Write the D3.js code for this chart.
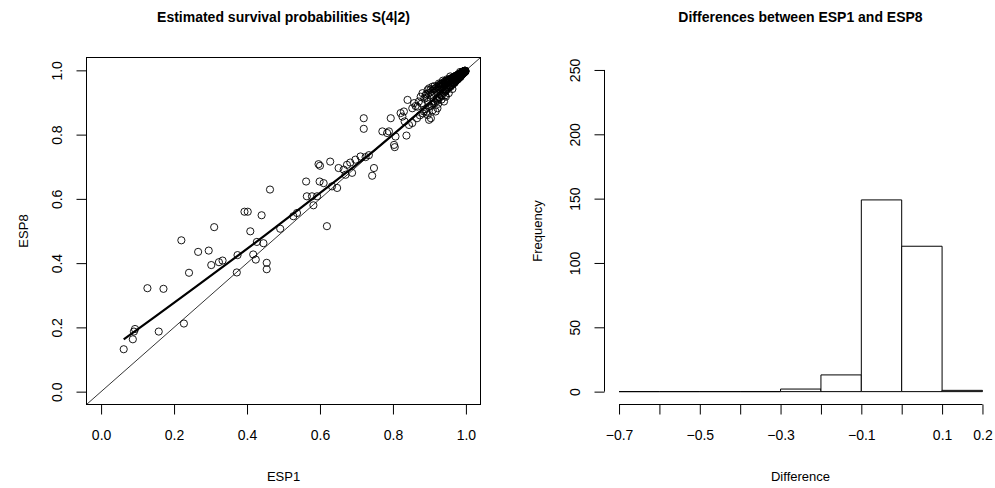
<!DOCTYPE html>
<html>
<head>
<meta charset="utf-8">
<script src="https://cdn.jsdelivr.net/npm/d3@7"></script>
<style>
body { margin: 0; background: #fff; }
text { font-family: "Liberation Sans", Arial, Helvetica, sans-serif; fill: #000; }
</style>
</head>
<body>
<div id="chart"></div>
<script>
// estimated survival probabilities, one entry per subject
var esp1 = [
    0.062, 0.087, 0.090, 0.093, 0.158, 0.227, 0.127, 0.171, 0.241, 0.220,
    0.266, 0.295, 0.310, 0.302, 0.323, 0.333, 0.372, 0.374, 0.409, 0.417,
    0.424, 0.427, 0.445, 0.454, 0.454, 0.491, 0.463, 0.393, 0.402, 0.440,
    0.619, 0.527, 0.537, 0.564, 0.578, 0.592, 0.582, 0.562, 0.599, 0.596,
    0.600, 0.628, 0.633, 0.647, 0.610, 0.651, 0.665, 0.674, 0.683, 0.697,
    0.711, 0.725, 0.734, 0.688, 0.670, 0.748, 0.743, 0.720, 0.720, 0.771,
    0.784, 0.789, 0.794, 0.807, 0.803, 0.805, 0.837, 0.821, 0.830, 0.826,
    0.832, 0.844, 0.853, 0.840, 0.876, 0.881, 0.895, 0.899, 0.908, 0.885,
    0.895, 0.899, 0.904, 0.917, 0.922, 0.858, 0.867, 0.853, 0.940, 0.945,
    // dense cluster, ESP8 above ESP1
    0.862, 0.871, 0.879, 0.886, 0.889, 0.893, 0.897, 0.902, 0.905, 0.908,
    0.911, 0.913, 0.916, 0.918, 0.920, 0.922, 0.924, 0.925, 0.927, 0.929,
    0.930, 0.932, 0.933, 0.935, 0.936, 0.938, 0.939, 0.941, 0.942, 0.943,
    0.945, 0.946, 0.947, 0.949, 0.950, 0.951, 0.953, 0.954, 0.955, 0.956,
    0.958, 0.959, 0.960, 0.961, 0.962, 0.964, 0.965, 0.966, 0.967, 0.968,
    0.969, 0.970, 0.971, 0.972, 0.973, 0.974, 0.975, 0.976, 0.977, 0.978,
    0.979, 0.980, 0.981, 0.982, 0.983, 0.984, 0.985, 0.986, 0.986, 0.987,
    0.988, 0.988, 0.989, 0.990, 0.990, 0.991, 0.991, 0.992, 0.992, 0.993,
    0.993, 0.994, 0.994, 0.995, 0.995, 0.996, 0.996, 0.997, 0.997, 0.998,
    0.984, 0.957, 0.948, 0.937, 0.926, 0.914, 0.903, 0.891, 0.896,
    // dense cluster, ESP8 below ESP1
    0.866, 0.874, 0.882, 0.888, 0.892, 0.898, 0.901, 0.906, 0.910, 0.912,
    0.915, 0.919, 0.921, 0.923, 0.926, 0.928, 0.931, 0.934, 0.937, 0.940,
    0.942, 0.944, 0.946, 0.948, 0.950, 0.952, 0.954, 0.956, 0.957, 0.959,
    0.961, 0.962, 0.964, 0.965, 0.967, 0.968, 0.970, 0.971, 0.972, 0.973,
    0.974, 0.975, 0.976, 0.977, 0.978, 0.979, 0.980, 0.981, 0.982, 0.983,
    0.984, 0.985, 0.986, 0.986, 0.987, 0.988, 0.988, 0.989, 0.989, 0.990,
    0.990, 0.991, 0.991, 0.992, 0.992, 0.993, 0.993, 0.994, 0.994, 0.995,
    0.995, 0.996, 0.996, 0.997, 0.997, 0.998, 0.998, 0.999, 0.999, 0.963,
    0.953, 0.943, 0.933, 0.924, 0.909, 0.958, 0.969, 0.979, 0.985
];
var esp8 = [
    0.132, 0.163, 0.187, 0.195, 0.187, 0.212, 0.322, 0.320, 0.370, 0.471,
    0.435, 0.439, 0.512, 0.394, 0.403, 0.408, 0.371, 0.425, 0.499, 0.427,
    0.411, 0.466, 0.462, 0.401, 0.381, 0.507, 0.629, 0.560, 0.560, 0.549,
    0.515, 0.546, 0.556, 0.608, 0.608, 0.608, 0.580, 0.654, 0.654, 0.708,
    0.703, 0.716, 0.639, 0.634, 0.649, 0.696, 0.691, 0.706, 0.713, 0.722,
    0.732, 0.730, 0.736, 0.681, 0.675, 0.696, 0.672, 0.851, 0.818, 0.810,
    0.805, 0.810, 0.851, 0.794, 0.768, 0.761, 0.797, 0.867, 0.872, 0.856,
    0.841, 0.830, 0.836, 0.908, 0.918, 0.929, 0.939, 0.944, 0.949, 0.872,
    0.861, 0.846, 0.851, 0.872, 0.882, 0.898, 0.887, 0.882, 0.903, 0.918,
    0.889, 0.903, 0.897, 0.912, 0.921, 0.915, 0.928, 0.931, 0.924, 0.936,
    0.941, 0.930, 0.944, 0.937, 0.948, 0.941, 0.952, 0.944, 0.949, 0.956,
    0.947, 0.958, 0.951, 0.960, 0.953, 0.957, 0.963, 0.958, 0.965, 0.956,
    0.962, 0.967, 0.960, 0.969, 0.963, 0.966, 0.971, 0.965, 0.969, 0.973,
    0.968, 0.974, 0.970, 0.976, 0.971, 0.977, 0.973, 0.979, 0.975, 0.980,
    0.976, 0.981, 0.978, 0.983, 0.979, 0.984, 0.981, 0.985, 0.982, 0.986,
    0.984, 0.988, 0.986, 0.989, 0.987, 0.990, 0.989, 0.991, 0.990, 0.992,
    0.991, 0.993, 0.992, 0.994, 0.993, 0.995, 0.994, 0.995, 0.996, 0.996,
    0.995, 0.997, 0.996, 0.997, 0.998, 0.998, 0.997, 0.998, 0.999, 0.999,
    0.995, 0.981, 0.972, 0.968, 0.959, 0.951, 0.940, 0.926, 0.902,
    0.851, 0.860, 0.866, 0.879, 0.871, 0.886, 0.889, 0.893, 0.897, 0.904,
    0.899, 0.909, 0.913, 0.906, 0.918, 0.915, 0.924, 0.921, 0.930, 0.931,
    0.937, 0.934, 0.941, 0.940, 0.944, 0.947, 0.948, 0.951, 0.953, 0.954,
    0.957, 0.955, 0.960, 0.959, 0.963, 0.962, 0.966, 0.965, 0.969, 0.968,
    0.971, 0.970, 0.973, 0.972, 0.975, 0.976, 0.977, 0.978, 0.979, 0.980,
    0.982, 0.982, 0.984, 0.983, 0.985, 0.986, 0.985, 0.987, 0.986, 0.988,
    0.989, 0.989, 0.990, 0.990, 0.991, 0.991, 0.992, 0.992, 0.993, 0.994,
    0.993, 0.995, 0.994, 0.996, 0.995, 0.997, 0.996, 0.998, 0.997, 0.942,
    0.929, 0.922, 0.909, 0.896, 0.876, 0.949, 0.961, 0.973, 0.979
];

// smoothed fit drawn through the scatter
var fitX = [0.062, 0.15, 0.25, 0.35, 0.45, 0.55, 0.65, 0.75, 0.85, 0.92, 0.96, 0.998];
var fitY = [0.163, 0.235, 0.318, 0.402, 0.487, 0.574, 0.662, 0.752, 0.848, 0.918, 0.960, 0.998];

var scatterTicks = [0, 0.2, 0.4, 0.6, 0.8, 1.0];

// histogram of ESP1 - ESP8
var histBreaks = [-0.7, -0.6, -0.5, -0.4, -0.3, -0.2, -0.1, 0, 0.1, 0.2];
var histTickLabels = ["\u22120.7", "", "\u22120.5", "", "\u22120.3", "", "\u22120.1", "", "0.1", "0.2"];
var histYTicks = [0, 50, 100, 150, 200, 250];

var width = 995, height = 488;
var svg = d3.select("#chart").append("svg")
    .attr("width", width)
    .attr("height", height);

// ---------- left panel: scatter ----------
var sx = d3.scaleLinear().domain([-0.04, 1.04]).range([86.5, 480.5]);
var sy = d3.scaleLinear().domain([-0.04, 1.04]).range([404.5, 57.5]);

var left = svg.append("g");

left.append("text")
    .attr("x", 283.5)
    .attr("y", 22)
    .attr("text-anchor", "middle")
    .attr("font-size", "14px")
    .attr("font-weight", "bold")
    .text("Estimated survival probabilities S(4|2)");

left.append("clipPath").attr("id", "clipL")
    .append("rect")
    .attr("x", 86.5).attr("y", 57.5)
    .attr("width", 394).attr("height", 347);

// identity line
left.append("line")
    .attr("clip-path", "url(#clipL)")
    .attr("x1", sx(-0.04)).attr("y1", sy(-0.04))
    .attr("x2", sx(1.04)).attr("y2", sy(1.04))
    .attr("stroke", "#000")
    .attr("stroke-width", 0.8);

left.append("g")
    .selectAll("circle")
    .data(esp1)
    .enter().append("circle")
    .attr("cx", function (d) { return sx(d); })
    .attr("cy", function (d, i) { return sy(esp8[i]); })
    .attr("r", 3.6)
    .attr("fill", "none")
    .attr("stroke", "#000")
    .attr("stroke-width", 0.9);

var fitLine = d3.line()
    .x(function (d) { return sx(d); })
    .y(function (d, i) { return sy(fitY[i]); })
    .curve(d3.curveMonotoneX);

left.append("path")
    .attr("d", fitLine(fitX))
    .attr("fill", "none")
    .attr("stroke", "#000")
    .attr("stroke-width", 2.2);

left.append("rect")
    .attr("x", 86.5).attr("y", 57.5)
    .attr("width", 394).attr("height", 347)
    .attr("fill", "none")
    .attr("stroke", "#000")
    .attr("stroke-width", 1);

var lx = left.append("g")
    .attr("transform", "translate(0,404.5)")
    .call(d3.axisBottom(sx).tickValues(scatterTicks).tickSize(10).tickPadding(16)
        .tickFormat(d3.format(".1f")));
lx.select(".domain").remove();

var ly = left.append("g")
    .attr("transform", "translate(86.5,0)")
    .call(d3.axisLeft(sy).tickValues(scatterTicks).tickSize(10)
        .tickFormat(d3.format(".1f")));
ly.select(".domain").remove();
ly.selectAll("text")
    .attr("x", 0).attr("y", 0).attr("dy", 0)
    .attr("text-anchor", "middle")
    .attr("transform", "translate(-25,0) rotate(-90)");

left.append("text")
    .attr("x", 283.5)
    .attr("y", 481)
    .attr("text-anchor", "middle")
    .attr("font-size", "13px")
    .text("ESP1");

left.append("text")
    .attr("transform", "translate(28,231) rotate(-90)")
    .attr("text-anchor", "middle")
    .attr("font-size", "13px")
    .text("ESP8");

// ---------- right panel: histogram ----------
var diffs = esp1.map(function (d, i) { return d - esp8[i]; });
var bins = d3.bin()
    .domain([histBreaks[0], histBreaks[histBreaks.length - 1]])
    .thresholds(histBreaks.slice(1, -1))(diffs);

var hx = d3.scaleLinear().domain([-0.736, 0.236]).range([604.5, 997]);
var hy = d3.scaleLinear().domain([-10, 260]).range([404.5, 57.1]);

var right = svg.append("g");

right.append("text")
    .attr("x", 800.5)
    .attr("y", 22)
    .attr("text-anchor", "middle")
    .attr("font-size", "14px")
    .attr("font-weight", "bold")
    .text("Differences between ESP1 and ESP8");

right.append("g")
    .selectAll("path")
    .data(bins)
    .enter().append("path")
    .attr("d", function (d) {
        var x0 = hx(d.x0), x1 = hx(d.x1), b = hy(0), t = hy(d.length);
        return "M" + x0 + "," + b + "V" + t + "H" + x1 + "V" + b + "Z";
    })
    .attr("fill", "#fff")
    .attr("stroke", "#000")
    .attr("stroke-width", 1);

var rx = right.append("g")
    .attr("transform", "translate(0,404.5)")
    .call(d3.axisBottom(hx).tickValues(histBreaks).tickSize(10).tickPadding(16)
        .tickFormat(function (d, i) { return histTickLabels[i]; }));
rx.select(".domain").remove();
rx.append("line")
    .attr("x1", hx(histBreaks[0])).attr("x2", hx(histBreaks[histBreaks.length - 1]))
    .attr("stroke", "#000");

var ry = right.append("g")
    .attr("transform", "translate(604.5,0)")
    .call(d3.axisLeft(hy).tickValues(histYTicks).tickSize(10));
ry.select(".domain").remove();
ry.append("line")
    .attr("y1", hy(0)).attr("y2", hy(250))
    .attr("stroke", "#000");
ry.selectAll("text")
    .attr("x", 0).attr("y", 0).attr("dy", 0)
    .attr("text-anchor", "middle")
    .attr("transform", "translate(-25,0) rotate(-90)");

right.append("text")
    .attr("x", 800.5)
    .attr("y", 481)
    .attr("text-anchor", "middle")
    .attr("font-size", "13px")
    .text("Difference");

right.append("text")
    .attr("transform", "translate(542,231) rotate(-90)")
    .attr("text-anchor", "middle")
    .attr("font-size", "13px")
    .text("Frequency");

svg.selectAll(".tick text")
    .attr("font-size", "14px")
    .attr("font-family", "'Liberation Sans', Arial, Helvetica, sans-serif");
</script>
</body>
</html>
